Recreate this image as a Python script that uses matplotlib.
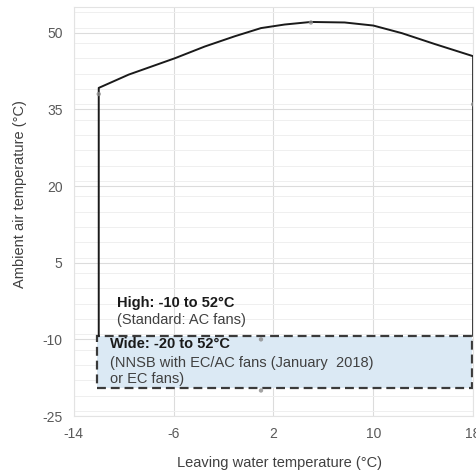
import matplotlib as mpl
mpl.use('Agg')
import matplotlib.pyplot as plt
from matplotlib.patches import Rectangle
from matplotlib.ticker import MultipleLocator

plt.rcParams['font.family'] = ['Liberation Sans', 'DejaVu Sans']
plt.rcParams['axes.unicode_minus'] = False

# envelope outline (high range)
env_x = [-12, -12, -9.6, -5.9, -3.5, -1.1, 1.0, 2.9, 5.0, 7.7, 10, 12.3, 14.9, 18, 18]
env_y = [-9.3, 39.2, 41.8, 45.0, 47.3, 49.3, 50.9, 51.6, 52.1, 52.0, 51.4, 49.9, 47.8, 45.4, -9.3]

# scatter points
pts_x = [-12, 5, 18, 1, 1]
pts_y = [38, 52, 36, -10, -20]

# wide range box
wide_x = [-12.1, 17.9]
wide_y = [-19.6, -9.3]

xticks = [-14, -6, 2, 10, 18]
yticks = [-25, -10, 5, 20, 35, 50]

fig = plt.figure(figsize=(4.76, 4.76), dpi=100)
ax = fig.add_axes([0.155, 0.126, 0.839, 0.859])

ax.set_xlim(-14, 18)
ax.set_ylim(-25, 55)
ax.set_xticks(xticks)
ax.set_yticks(yticks)
ax.yaxis.set_minor_locator(MultipleLocator(3))
ax.grid(True, which='major', color='#dcdcdc', lw=0.8)
ax.grid(True, which='minor', axis='y', color='#efefef', lw=0.7)
ax.set_axisbelow(True)
for s in ax.spines.values():
    s.set_color('#e3e3e3')
    s.set_linewidth(0.8)
ax.tick_params(which='both', length=0, colors='#595959', labelsize=10, pad=8)

ax.add_patch(Rectangle((wide_x[0], wide_y[0]), wide_x[1] - wide_x[0], wide_y[1] - wide_y[0],
                       facecolor='#dbe9f4', edgecolor='#3a3a3a', lw=1.6,
                       linestyle=(0, (4, 2.2)), zorder=2))

ax.plot(env_x, env_y, color='#1a1a1a', lw=1.4, zorder=3)
ax.scatter(pts_x, pts_y, s=10, color='#8c8c8c', alpha=0.8, zorder=4, edgecolors='none')

fs = 10.5
ax.text(-10.5, -2.8, 'High: -10 to 52°C', fontsize=fs, fontweight='bold', color='#1a1a1a', va='center')
ax.text(-10.5, -6.2, '(Standard: AC fans)', fontsize=fs, color='#404040', va='center')
ax.text(-11.1, -11.0, 'Wide: -20 to 52°C', fontsize=fs, fontweight='bold', color='#1a1a1a', va='center')
ax.text(-11.1, -14.6, '(NNSB with EC/AC fans (January  2018)', fontsize=fs, color='#404040', va='center')
ax.text(-11.1, -17.7, 'or EC fans)', fontsize=fs, color='#404040', va='center')

ax.set_xlabel('Leaving water temperature (°C)', fontsize=fs, color='#404040')
ax.set_ylabel('Ambient air temperature (°C)', fontsize=fs, color='#404040')
ax.xaxis.set_label_coords(0.514, -0.098)
ax.yaxis.set_label_coords(-0.118, 0.543)

fig.savefig('out.png', dpi=100)
